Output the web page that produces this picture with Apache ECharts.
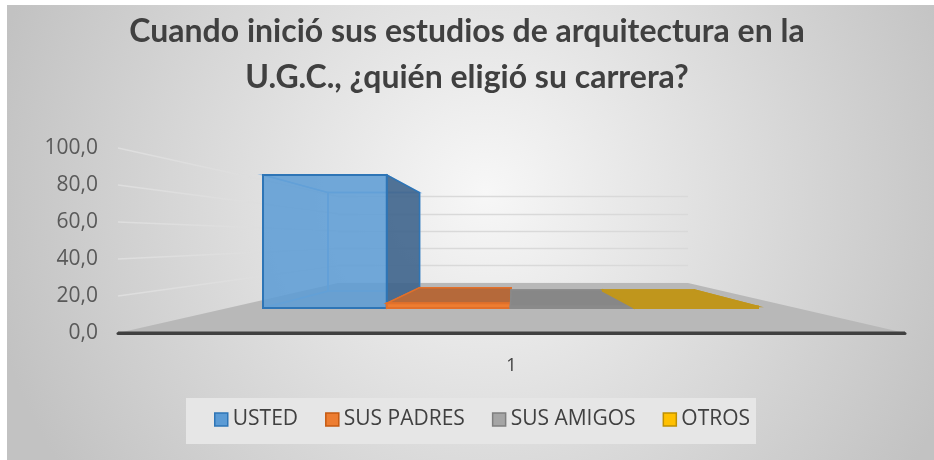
<!DOCTYPE html>
<html>
<head>
<meta charset="utf-8">
<script src="https://cdn.jsdelivr.net/npm/echarts@6/dist/echarts.min.js"></script>
<style>
  html, body { margin: 0; padding: 0; background: #fff; }
  #chart { width: 934px; height: 460px; }
</style>
</head>
<body>
<div id="chart"></div>
<script>
// datos
const categories = ['1'];
const seriesNames = ['USTED', 'SUS PADRES', 'SUS AMIGOS', 'OTROS'];
const values = [94.4, 3.3, 1.1, 1.1];
const yTicks = [0, 20, 40, 60, 80, 100];

// layout of the fake 3D box (front plane, back wall, bar plane)
const FRONT = { left: 118, right: 905, top: 148, bottom: 333 };
const BACK = { left: 338, right: 688, top: 196.5, bottom: 283 };
const BARS = { left: 263, right: 758, top: 167, bottom: 308 };
const VP = [513, 243];
const DEPTH = 0.74;

const BAR_STYLES = [
  { front: 'rgba(91,155,213,0.85)', side: 'rgba(62,100,140,0.9)', top: '#5b9bd5', edge: '#2e75b6', inner: 'rgba(140,185,230,0.9)', legend: '#5b9bd5', legendBorder: '#2e75b6' },
  { front: '#ed7d31', side: '#b5693a', top: '#b5693a', edge: '#e2702a', inner: '#e2702a', legend: '#ed7d31', legendBorder: '#c55a11' },
  { front: '#a5a5a5', side: '#878787', top: '#878787', edge: '#8a8a8a', inner: '#8a8a8a', legend: '#a5a5a5', legendBorder: '#7f7f7f' },
  { front: '#ffc000', side: '#c0961c', top: '#c0961c', edge: '#c0961c', inner: '#c0961c', legend: '#ffc000', legendBorder: '#bf9000' }
];

function grid(r) {
  return { left: r.left, top: r.top, width: r.right - r.left, height: r.bottom - r.top };
}

function toBack(p) {
  return [VP[0] + (p[0] - VP[0]) * DEPTH, VP[1] + (p[1] - VP[1]) * DEPTH];
}

function renderBar(si) {
  const st = BAR_STYLES[si];
  return function (params, api) {
    const base = api.coord([api.value(0), 0]);
    const band = api.size([1, 0])[0];
    const w = band / seriesNames.length;
    const xl = base[0] - band / 2 + si * w;
    const xr = xl + w;
    const yb = base[1];
    const yt = api.coord([api.value(0), api.value(1)])[1];
    const ftl = [xl, yt], ftr = [xr, yt], fbr = [xr, yb], fbl = [xl, yb];
    const btl = toBack(ftl), btr = toBack(ftr), bbr = toBack(fbr), bbl = toBack(fbl);
    const poly = (pts, fill, stroke) => ({
      type: 'polygon', shape: { points: pts }, style: { fill: fill, stroke: stroke, lineWidth: 1.5 }
    });
    const faces = [
      { pts: [ftl, btl, bbl, fbl], vis: xl > VP[0], fill: st.side },
      { pts: [ftr, btr, bbr, fbr], vis: xr < VP[0], fill: st.side },
      { pts: [ftl, ftr, btr, btl], vis: yt > VP[1], fill: st.top }
    ];
    const children = [poly([btl, btr, bbr, bbl], 'none', st.inner)];
    faces.filter(f => !f.vis).forEach(f => children.push(poly(f.pts, 'none', st.inner)));
    faces.filter(f => f.vis).forEach(f => children.push(poly(f.pts, f.fill, st.edge)));
    children.push({
      type: 'rect',
      shape: { x: xl, y: yt, width: w, height: yb - yt },
      style: { fill: st.front, stroke: st.edge, lineWidth: 2 }
    });
    return { type: 'group', children: children };
  };
}

const chart = echarts.init(document.getElementById('chart'));

const option = {
  backgroundColor: {
    type: 'radial', x: 0.52, y: 0.42, r: 1.1,
    colorStops: [{ offset: 0, color: '#f7f7f7' }, { offset: 1, color: '#c2c2c2' }]
  },
  title: {
    text: 'Cuando inició sus estudios de arquitectura en la\nU.G.C., ¿quién eligió su carrera?',
    left: 'center',
    top: 9,
    padding: 0,
    textStyle: { fontFamily: 'Lato', fontWeight: 'bold', fontSize: 32, lineHeight: 46, color: '#404040' }
  },
  legend: {
    left: 214,
    top: 409,
    padding: 0,
    itemWidth: 13,
    itemHeight: 13,
    itemGap: 27,
    icon: 'rect',
    textStyle: { fontFamily: 'Open Sans', fontSize: 21, color: '#404040' },
    data: seriesNames.map((n, i) => ({
      name: n,
      itemStyle: { color: BAR_STYLES[i].legend, borderColor: BAR_STYLES[i].legendBorder, borderWidth: 1.5 }
    }))
  },
  grid: [grid(FRONT), grid(BACK), grid(BARS)],
  xAxis: [
    {
      type: 'category', data: categories, gridIndex: 0,
      axisLine: { lineStyle: { color: '#404040', width: 3 } },
      axisTick: { show: false },
      axisLabel: { fontFamily: 'Open Sans', fontSize: 18, color: '#404040', margin: 24 }
    },
    { type: 'category', data: categories, gridIndex: 1, show: false },
    { type: 'category', data: categories, gridIndex: 2, show: false }
  ],
  yAxis: [
    {
      type: 'value', gridIndex: 0, min: 0, max: 100, interval: 20,
      axisLine: { show: false }, axisTick: { show: false }, splitLine: { show: false },
      axisLabel: {
        fontFamily: 'Open Sans', fontSize: 21, color: '#595959', margin: 20,
        formatter: v => v.toFixed(1).replace('.', ',')
      }
    },
    {
      type: 'value', gridIndex: 1, min: 0, max: 100, interval: 20,
      axisLine: { show: false }, axisTick: { show: false }, axisLabel: { show: false },
      splitLine: { lineStyle: { color: '#d9d9d9', width: 1.3 } }
    },
    { type: 'value', gridIndex: 2, min: 0, max: 100, show: false, splitLine: { show: false } }
  ],
  series: seriesNames.map((n, i) => ({
    name: n,
    type: 'custom',
    xAxisIndex: 2,
    yAxisIndex: 2,
    itemStyle: { color: BAR_STYLES[i].legend },
    renderItem: renderBar(i),
    encode: { x: 0, y: 1 },
    data: [[0, values[i]]],
    z: 3 + i
  }))
};

chart.setOption(option);

// floor and left wall, placed with the axes' own scales
const yFront = v => chart.convertToPixel({ yAxisIndex: 0 }, v);
const yBack = v => chart.convertToPixel({ yAxisIndex: 1 }, v);
const graphics = [
  { type: 'rect', shape: { x: 0, y: 0, width: 934, height: 5 }, style: { fill: '#fff' }, z: 10 },
  { type: 'rect', shape: { x: 0, y: 0, width: 7, height: 460 }, style: { fill: '#fff' }, z: 10 },
  { type: 'rect', shape: { x: 186, y: 398, width: 570, height: 46 }, style: { fill: '#e6e6e6' }, z: -1 }
];
yTicks.filter(v => v > 0).forEach(v => {
  graphics.push({
    type: 'line', z: -1,
    shape: { x1: FRONT.left, y1: yFront(v), x2: BACK.left, y2: yBack(v) },
    style: { stroke: '#dedede', lineWidth: 1.5 }
  });
});
graphics.push({
  type: 'polygon', z: 0,
  shape: { points: [[FRONT.left, yFront(0)], [FRONT.right, yFront(0)], [BACK.right, yBack(0)], [BACK.left, yBack(0)]] },
  style: { fill: '#b8b8b8' }
});
graphics.push({
  type: 'line', z: 1,
  shape: { x1: FRONT.left, y1: yFront(0), x2: FRONT.right, y2: yFront(0) },
  style: { stroke: '#404040', lineWidth: 3 }
});
chart.setOption({ graphic: graphics });
</script>
</body>
</html>
